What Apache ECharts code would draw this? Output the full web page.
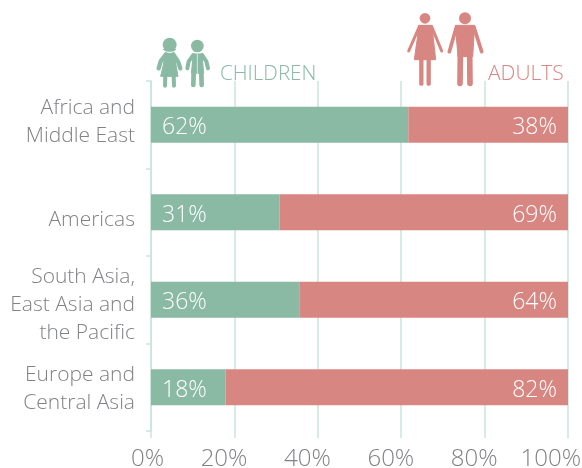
<!DOCTYPE html>
<html><head><meta charset="utf-8">
<script src="https://cdn.jsdelivr.net/npm/echarts@6/dist/echarts.min.js"></script>
<style>html,body{margin:0;padding:0;background:#fff}#c{width:582px;height:468px}</style></head>
<body><div id="c"></div>
<script>
const categories = ['Africa and\nMiddle East','Americas','South Asia,\nEast Asia and\nthe Pacific','Europe and\nCentral Asia'];
const children = [61.7,30.8,35.7,17.9];
const adults = [38.3,69.2,64.3,82.1];
const ticks = [0,20,40,60,80,100];
const GREEN='#8ab9a4', RED='#d78681', GRID='#c9e5dd', GRAY='#808285';
const FONT='"Open Sans", sans-serif';
const pct = p => Math.round(p.value)+'%';
// Spacer lines nudge each multi-line label off its band centre, as in the reference.
const spacerBefore = {'Americas':'s16','South Asia,\nEast Asia and\nthe Pacific':'s10','Europe and\nCentral Asia':'s4'};
const spacerAfter = {'Africa and\nMiddle East':'s6'};
function catLabel(v){
  const lines=v.split('\n').map(l=>'{t|'+l+'}');
  if(spacerBefore[v]) lines.unshift('{'+spacerBefore[v]+'| }');
  if(spacerAfter[v]) lines.push('{'+spacerAfter[v]+'| }');
  return lines.join('\n');
}
const txt={color:GRAY,fontFamily:FONT,fontWeight:300,fontSize:21,lineHeight:28};
const sp=h=>({fontSize:4,lineHeight:h,height:h});

function circle(cx,cy,r,c){return {type:'circle',shape:{cx,cy,r},style:{fill:c}};}
function poly(points,c){return {type:'polygon',shape:{points},style:{fill:c,stroke:c,lineWidth:3,lineJoin:'round'}};}
function limb(points,w,c){return {type:'polyline',shape:{points},style:{stroke:c,fill:'none',lineWidth:w,lineCap:'round',lineJoin:'round'}};}

const girl=[
  circle(89,134,21,GREEN),
  poly([[70,148],[108,148],[100,153],[78,153]],GREEN),
  poly([[75,160],[102,160],[108,195],[114,229],[62,229],[70,195]],GREEN),
  limb([[78,163],[62,184],[56,205]],13,GREEN),limb([[100,163],[114,184],[121,205]],13,GREEN),
  limb([[76,228],[75,257]],12,GREEN),limb([[101,228],[102,257]],12,GREEN)
];
const boy=[
  circle(172,138,19,GREEN),
  poly([[160,162],[186,162],[191,220],[154,220]],GREEN),
  limb([[160,165],[146,184],[142,205]],12,GREEN),limb([[186,165],[199,184],[204,205]],12,GREEN),
  limb([[161,220],[160,255]],14,GREEN),limb([[184,220],[185,255]],14,GREEN),
  {type:'polyline',shape:{points:[[172,162],[172,225]]},style:{stroke:'#fff',fill:'none',lineWidth:2}}
];
const woman=[
  circle(105,55,16,RED),
  poly([[86,76],[126,76],[130,115],[137,179],[73,179],[82,115]],RED),
  limb([[88,80],[56,153]],9,RED),limb([[125,80],[155,153]],9,RED),
  limb([[94,178],[94,251]],13,RED),limb([[116,178],[116,251]],13,RED)
];
const man=[
  circle(225,55,18,RED),
  poly([[196,76],[254,76],[248,170],[204,170]],RED),
  limb([[199,82],[178,155]],11,RED),limb([[252,82],[275,155]],11,RED),
  limb([[211,165],[210,250]],17,RED),limb([[239,165],[240,250]],17,RED)
];

const chart=echarts.init(document.getElementById('c'),null,{renderer:'canvas'});
chart.setOption({
  animation:false,
  grid:{left:151,width:417,top:81,height:350,outerBoundsMode:'none'},
  xAxis:{type:'value',min:0,max:100,interval:20,
    axisLine:{show:false},
    axisTick:{show:true,length:7,lineStyle:{color:GRID,width:1.5}},
    splitLine:{show:true,lineStyle:{color:GRID,width:1.5}},
    axisLabel:{show:true,color:GRAY,fontFamily:FONT,fontWeight:300,fontSize:24,margin:16,align:'center',
      hideOverlap:false,showMinLabel:true,showMaxLabel:true,alignMinLabel:'center',alignMaxLabel:'center',
      padding:[0,34,0,0],formatter:'{a|{value}%}',
      rich:{a:{width:60,align:'right',color:GRAY,fontFamily:FONT,fontWeight:300,fontSize:24}}}},
  yAxis:{type:'category',inverse:true,data:categories,
    axisLine:{show:true,lineStyle:{color:GRID,width:1.5}},
    axisTick:{show:true,length:5,lineStyle:{color:GRID,width:1.5}},
    axisLabel:{formatter:catLabel,margin:16,align:'right',interval:0,
      rich:{t:txt,s4:sp(4),s6:sp(6),s10:sp(10),s16:sp(16)}}},
  series:[
    {name:'Children',type:'bar',stack:'a',data:children,barWidth:36,itemStyle:{color:GREEN},
     label:{show:true,position:'insideLeft',distance:11,offset:[0,3],formatter:pct,color:'#fff',fontFamily:FONT,fontWeight:300,fontSize:23}},
    {name:'Adults',type:'bar',stack:'a',data:adults,barWidth:36,itemStyle:{color:RED},
     label:{show:true,position:'insideRight',distance:11,offset:[0,3],formatter:pct,color:'#fff',fontFamily:FONT,fontWeight:300,fontSize:23}}
  ],
  graphic:[
    {type:'group',x:140,y:0,scaleX:1/3,scaleY:1/3,children:girl.concat(boy)},
    {type:'group',x:390,y:0,scaleX:1/3,scaleY:1/3,children:woman.concat(man)},
    {type:'text',x:220,y:64,style:{text:'CHILDREN',fill:GREEN,font:'300 20.6px '+FONT}},
    {type:'text',x:488,y:64,style:{text:'ADULTS',fill:RED,font:'300 21px '+FONT}}
  ]
});
</script></body></html>
